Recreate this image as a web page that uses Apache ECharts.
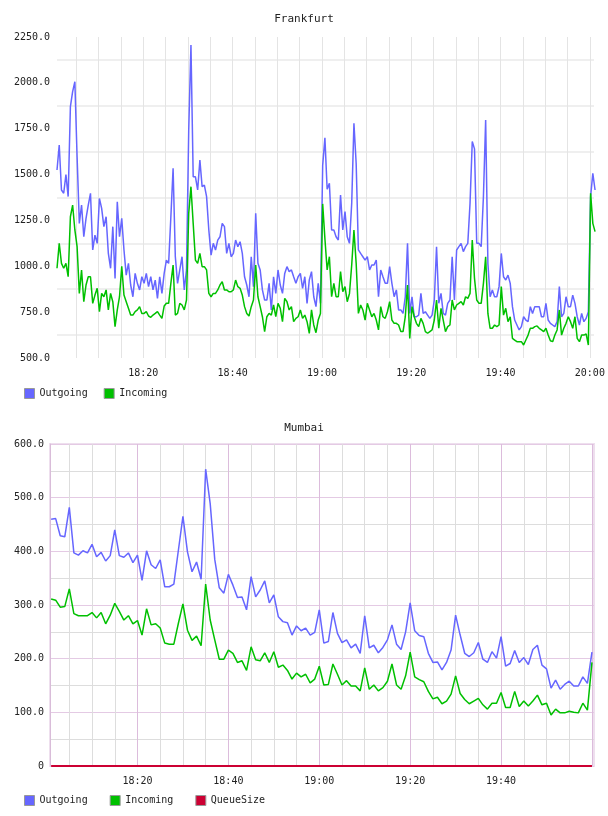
<!DOCTYPE html>
<html>
<head>
<meta charset="utf-8">
<title>Frankfurt / Mumbai</title>
<script src="https://cdn.jsdelivr.net/npm/echarts@6.0.0/dist/echarts.min.js"></script>
<style>
  html, body { margin: 0; padding: 0; background: #fff; }
  #chart { width: 608px; height: 816px; }
</style>
</head>
<body>
<div id="chart"></div>
<script>
// x values are minutes after 18:00
const frankStart = 40 / 60;
const frankStep = 0.5;

const frankOut = [
  1525, 1661, 1416, 1398, 1500, 1380, 1870, 1952, 2006, 1597,
  1234, 1334, 1161, 1261, 1334, 1398, 1089, 1170, 1125, 1370,
  1316, 1216, 1270, 1070, 989, 1216, 934, 1352, 1161, 1261,
  1089, 952, 1016, 898, 834, 961, 907, 871, 943, 907,
  961, 889, 943, 871, 925, 825, 943, 852, 961, 1034,
  1016, 1270, 1534, 1052, 907, 980, 1052, 871, 980, 1743,
  2206, 1488, 1488, 1416, 1579, 1434, 1443, 1380, 1198, 1061,
  1125, 1089, 1143, 1161, 1234, 1216, 1070, 1125, 1052, 1070,
  1143, 1107, 1134, 1070, 943, 898, 834, 1052, 889, 1289,
  1016, 980, 871, 816, 816, 907, 762, 943, 852, 980,
  898, 852, 961, 998, 971, 980, 943, 907, 943, 961,
  880, 943, 798, 925, 971, 834, 780, 907, 798, 1550,
  1700, 1420, 1452, 1198, 1198, 1161, 1143, 1389, 1198, 1298,
  1161, 1125, 1343, 1780, 1560, 1089, 1070, 1052, 1034, 1052,
  980, 1007, 1007, 1034, 834, 980, 943, 907, 907, 998,
  907, 834, 871, 762, 762, 743, 834, 1125, 743, 834,
  725, 725, 734, 852, 743, 752, 734, 716, 734, 816,
  1107, 798, 852, 743, 734, 798, 816, 1052, 816, 1089,
  1107, 1125, 1080, 1107, 1125, 1343, 1680, 1640, 1125, 1125,
  1107, 1380, 1797, 1016, 834, 871, 834, 834, 889, 1070,
  943, 925, 952, 907, 780, 707, 680, 653, 671, 725,
  707, 698, 780, 743, 780, 780, 780, 725, 725, 798,
  707, 689, 680, 671, 698, 889, 725, 743, 834, 780,
  780, 843, 798, 725, 680, 743, 698, 716, 752, 1380,
  1507, 1416
];

const frankIn = [
  989, 1125, 1016, 989, 1016, 943, 1270, 1334, 1198, 1107,
  852, 980, 807, 898, 943, 943, 798, 843, 880, 753,
  852, 834, 871, 762, 852, 807, 671, 762, 834, 1000,
  843, 807, 771, 734, 734, 753, 762, 780, 743, 743,
  753, 729, 722, 734, 743, 753, 734, 716, 783, 798,
  798, 907, 1007, 734, 743, 798, 789, 762, 816, 1289,
  1434, 1234, 1034, 1016, 1070, 998, 998, 980, 852, 834,
  852, 852, 871, 898, 916, 871, 871, 861, 861, 871,
  925, 889, 880, 843, 780, 743, 729, 780, 816, 1007,
  834, 780, 725, 644, 725, 743, 734, 789, 725, 798,
  771, 698, 825, 807, 762, 780, 698, 716, 725, 762,
  716, 734, 698, 634, 762, 680, 638, 707, 743, 1340,
  1150, 980, 1052, 834, 907, 834, 834, 971, 861, 889,
  807, 852, 1007, 1198, 1016, 743, 789, 762, 707, 798,
  762, 725, 743, 707, 653, 780, 725, 716, 752, 807,
  707, 689, 689, 680, 644, 644, 725, 898, 607, 780,
  725, 689, 671, 716, 689, 644, 635, 644, 653, 707,
  816, 662, 771, 707, 644, 671, 680, 816, 762, 789,
  798, 807, 789, 834, 825, 852, 1143, 934, 816, 798,
  798, 907, 1052, 743, 662, 662, 680, 671, 680, 889,
  734, 771, 698, 725, 607, 598, 589, 589, 589, 571,
  598, 625, 662, 662, 671, 675, 662, 653, 644, 662,
  625, 594, 589, 625, 653, 762, 625, 662, 689, 725,
  698, 662, 725, 607, 589, 625, 625, 631, 571, 1398,
  1234, 1189
];

const mumbaiStart = 1;
const mumbaiStep = 1;

const mumbaiOut = [
  460, 461, 429, 427, 482, 397, 393, 401, 397, 413,
  390, 398, 382, 392, 440, 392, 389, 397, 379, 393,
  346, 401, 375, 368, 384, 334, 334, 339, 402, 465,
  399, 362, 380, 348, 553, 489, 385, 332, 322, 357,
  337, 314, 315, 291, 353, 315, 328, 345, 304, 319,
  278, 269, 267, 244, 261, 252, 257, 244, 249, 291,
  229, 232, 286, 247, 230, 235, 220, 227, 210, 280,
  220, 225, 211, 221, 235, 263, 227, 217, 250, 304,
  252, 243, 241, 210, 193, 194, 179, 193, 216, 281,
  244, 210, 204, 211, 230, 199, 193, 213, 201, 241,
  186, 191, 215, 193, 202, 189, 217, 225, 188, 181,
  145, 160, 143, 152, 158, 149, 149, 166, 154, 212
];

const mumbaiIn = [
  311, 309, 296, 297, 330, 284, 280, 280, 280, 286,
  276, 286, 265, 281, 303, 288, 272, 280, 265, 271,
  244, 293, 263, 265, 257, 229, 227, 227, 266, 302,
  253, 234, 242, 224, 339, 272, 235, 199, 199, 216,
  210, 193, 196, 178, 222, 198, 196, 211, 193, 213,
  184, 188, 178, 162, 173, 166, 171, 155, 162, 186,
  151, 152, 190, 171, 151, 159, 149, 149, 140, 183,
  143, 151, 140, 146, 158, 190, 151, 143, 168, 212,
  166, 161, 157, 139, 125, 128, 116, 121, 134, 168,
  135, 124, 116, 121, 126, 114, 106, 117, 117, 137,
  109, 109, 139, 111, 121, 112, 121, 132, 114, 117,
  95, 106, 99, 99, 102, 100, 99, 117, 104, 193
];

const mumbaiQueue = [
  0, 0, 0, 0, 0, 0, 0, 0, 0, 0,
  0, 0, 0, 0, 0, 0, 0, 0, 0, 0,
  0, 0, 0, 0, 0, 0, 0, 0, 0, 0,
  0, 0, 0, 0, 0, 0, 0, 0, 0, 0,
  0, 0, 0, 0, 0, 0, 0, 0, 0, 0,
  0, 0, 0, 0, 0, 0, 0, 0, 0, 0,
  0, 0, 0, 0, 0, 0, 0, 0, 0, 0,
  0, 0, 0, 0, 0, 0, 0, 0, 0, 0,
  0, 0, 0, 0, 0, 0, 0, 0, 0, 0,
  0, 0, 0, 0, 0, 0, 0, 0, 0, 0,
  0, 0, 0, 0, 0, 0, 0, 0, 0, 0,
  0, 0, 0, 0, 0, 0, 0, 0, 0, 0
];

// tick positions (minutes after 18:00)
const fiveMinTicks = [5, 10, 15, 20, 25, 30, 35, 40, 45, 50, 55, 60, 65, 70, 75, 80, 85, 90, 95, 100, 105, 110, 115, 120];
const twentyMinTicks = [20, 40, 60, 80, 100, 120];
const frankLabels = [20, 40, 60, 80, 100, 120];
const mumbaiLabels = [20, 40, 60, 80, 100];

const BLUE = "#6666ff";
const GREEN = "#00c000";
const RED = "#cc0033";
const FONT = '"DejaVu Sans Mono", monospace';
const TEXT = "#222";

const toPairs = (start, step, values) => values.map((v, i) => [start + i * step, v]);
const clock = (m) => {
  const h = 18 + Math.floor(m / 60);
  const mm = Math.round(m % 60);
  return h + ":" + String(mm).padStart(2, "0");
};

const lineSeries = (name, color, data, axis) => ({
  name,
  type: "line",
  xAxisIndex: axis,
  yAxisIndex: axis,
  data,
  showSymbol: false,
  symbol: "none",
  lineStyle: { width: 1.5, color },
  itemStyle: { color },
  emphasis: { disabled: true }
});

const chart = echarts.init(document.getElementById("chart"));
chart.setOption({
  animation: false,
  backgroundColor: "#fff",
  title: [
    {
      text: "Frankfurt", left: "center", top: 14, padding: 0,
      textStyle: { fontFamily: FONT, fontSize: 11, fontWeight: "normal", color: TEXT }
    },
    {
      text: "Mumbai", left: "center", top: 423, padding: 0,
      textStyle: { fontFamily: FONT, fontSize: 11, fontWeight: "normal", color: TEXT }
    }
  ],
  legend: [
    {
      data: ["Outgoing", "Incoming"],
      left: 24, top: 388, padding: 0,
      icon: "rect", itemWidth: 10, itemHeight: 10, itemGap: 16,
      itemStyle: { borderColor: "#999", borderWidth: 1 },
      selectedMode: false,
      textStyle: { fontFamily: FONT, fontSize: 10, color: TEXT }
    },
    {
      data: ["Outgoing", "Incoming", "QueueSize"],
      left: 24, top: 795, padding: 0,
      icon: "rect", itemWidth: 10, itemHeight: 10, itemGap: 22,
      itemStyle: { borderColor: "#999", borderWidth: 1 },
      selectedMode: false,
      textStyle: { fontFamily: FONT, fontSize: 10, color: TEXT }
    }
  ],
  grid: [
    { left: 57, right: 14, top: 37, height: 321 },
    { left: 50, right: 14, top: 444, height: 322, show: true, borderColor: "#eedfee", borderWidth: 2 }
  ],
  xAxis: [
    {
      gridIndex: 0, type: "value", min: 40 / 60, max: 120.93,
      axisLine: { show: false },
      axisTick: { show: false, customValues: fiveMinTicks },
      axisLabel: {
        customValues: frankLabels, formatter: clock, margin: 10,
        fontFamily: FONT, fontSize: 10, color: TEXT
      },
      splitLine: { show: true, lineStyle: { color: "#e4e4e4", width: 1 } }
    },
    {
      gridIndex: 1, type: "value", min: 0.75, max: 120.45,
      axisLine: { show: false },
      axisTick: { show: false, customValues: fiveMinTicks },
      axisLabel: {
        customValues: mumbaiLabels, formatter: clock, margin: 10,
        fontFamily: FONT, fontSize: 10, color: TEXT
      },
      splitLine: { show: true, lineStyle: { color: "#dddddd", width: 1 } }
    },
    {
      gridIndex: 1, type: "value", min: 0.75, max: 120.45,
      axisLine: { show: false },
      axisTick: { show: false, customValues: twentyMinTicks },
      axisLabel: { show: false },
      splitLine: { show: true, lineStyle: { color: "#dcbcdc", width: 1 } }
    }
  ],
  yAxis: [
    {
      gridIndex: 0, type: "value", min: 500, max: 2250, interval: 250,
      axisLine: { show: false },
      axisTick: { show: false },
      axisLabel: {
        formatter: (v) => v.toFixed(1), margin: 7,
        fontFamily: FONT, fontSize: 10, color: TEXT
      },
      splitLine: { show: false },
      minorTick: { show: false, splitNumber: 2 },
      minorSplitLine: { show: true, lineStyle: { color: "#efefef", width: 2 } }
    },
    {
      gridIndex: 1, type: "value", min: 0, max: 600, interval: 100,
      axisLine: { show: true, lineStyle: { color: "#d9bcd9", width: 1 } },
      axisTick: { show: false },
      axisLabel: {
        formatter: (v) => (v === 0 ? "0" : v.toFixed(1)), margin: 6,
        fontFamily: FONT, fontSize: 10, color: TEXT
      },
      splitLine: { show: true, lineStyle: { color: "#e4cae4", width: 1 } },
      minorTick: { show: false, splitNumber: 2 },
      minorSplitLine: { show: true, lineStyle: { color: "#dddddd", width: 1 } }
    }
  ],
  series: [
    lineSeries("Outgoing", BLUE, toPairs(frankStart, frankStep, frankOut), 0),
    lineSeries("Incoming", GREEN, toPairs(frankStart, frankStep, frankIn), 0),
    lineSeries("Outgoing", BLUE, toPairs(mumbaiStart, mumbaiStep, mumbaiOut), 1),
    lineSeries("Incoming", GREEN, toPairs(mumbaiStart, mumbaiStep, mumbaiIn), 1),
    Object.assign(lineSeries("QueueSize", RED, toPairs(mumbaiStart, mumbaiStep, mumbaiQueue), 1), {
      lineStyle: { width: 2, color: RED }
    })
  ]
});
</script>
</body>
</html>
